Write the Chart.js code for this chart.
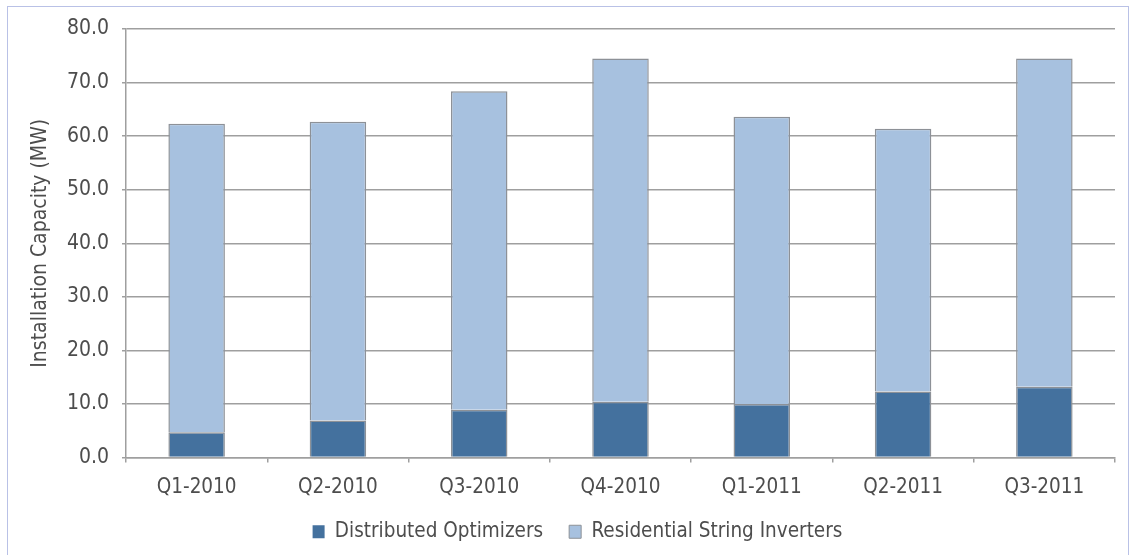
<!DOCTYPE html>
<html><head><meta charset="utf-8">
<script src="https://cdn.jsdelivr.net/npm/chart.js@4/dist/chart.umd.min.js"></script>
<style>
html,body{margin:0;padding:0;background:#fff;width:1136px;height:555px;overflow:hidden;}
#frame{position:absolute;left:7px;top:6px;width:1122px;height:560px;border:1.5px solid #b9c1e6;border-bottom:none;box-sizing:border-box;}
#wrap{position:absolute;left:0;top:0;width:1136px;height:555px;}
</style></head><body>
<div id="frame"></div>
<div id="wrap"><canvas id="c" width="1136" height="555"></canvas></div>
<script>
const categories = ["Q1-2010","Q2-2010","Q3-2010","Q4-2010","Q1-2011","Q2-2011","Q3-2011"];
const optimizers = [4.7, 6.9, 8.9, 10.4, 10.0, 12.3, 13.2];
const stringInverters = [57.6, 55.8, 59.5, 64.1, 53.6, 49.1, 61.3];
const yTicks = [0, 10, 20, 30, 40, 50, 60, 70, 80];
const seriesNames = ["Distributed Optimizers", "Residential String Inverters"];
const yTitle = "Installation Capacity (MW)";

const FONT = "'Liberation Sans Narrow','DejaVu Sans Condensed','Liberation Sans',sans-serif";
const TXT = '#4d4d4d';
const GRID = '#9f9f9f';

new Chart(document.getElementById('c'), {
  type: 'bar',
  data: {
    labels: categories,
    datasets: [
      {label: seriesNames[0], data: optimizers, backgroundColor: '#44719e', borderColor: '#8d9197', borderWidth: 1.5, barPercentage: 0.4, categoryPercentage: 1},
      {label: seriesNames[1], data: stringInverters, backgroundColor: '#a7c1df', borderColor: '#8d9197', borderWidth: 1.5, barPercentage: 0.4, categoryPercentage: 1}
    ]
  },
  options: {
    responsive: false,
    animation: false,
    layout: {padding: {top: 29, right: 21, left: 40, bottom: 3}},
    plugins: {
      legend: {
        position: 'bottom',
        labels: {font: {family: FONT, size: 20.5}, color: TXT, boxWidth: 12, boxHeight: 13, padding: 26, useBorderRadius: false,
          generateLabels(chart) {
            return chart.data.datasets.map((d, i) => ({text: d.label, fillStyle: d.backgroundColor, strokeStyle: i === 1 ? '#8d9197' : '#ffffff', lineWidth: i === 1 ? 1 : 0, datasetIndex: i, fontColor: TXT}));
          }
        }
      },
      tooltip: {enabled: false}
    },
    scales: {
      x: {
        stacked: true,
        grid: {display: true, drawOnChartArea: false, offset: true, color: GRID, lineWidth: 1.5, tickLength: 5},
        border: {display: true, color: GRID, width: 1.5},
        ticks: {font: {family: FONT, size: 20.5}, color: TXT, padding: 13, maxRotation: 0},
        afterFit(s) { s.height = 38; }
      },
      y: {
        stacked: true,
        min: 0, max: 80,
        afterBuildTicks(s) { s.ticks = yTicks.map(v => ({value: v})); },
        grid: {color: GRID, lineWidth: 1.5, tickLength: 4},
        border: {display: true, color: GRID, width: 1.5},
        ticks: {font: {family: FONT, size: 21}, color: TXT, padding: 13, callback: v => Number(v).toFixed(1)},
        title: {display: true, text: yTitle, font: {family: FONT, size: 21}, color: TXT, padding: {top: -12, bottom: 0}},
        afterFit(s) { s.width = 86; }
      }
    }
  }
});
</script>
</body></html>
